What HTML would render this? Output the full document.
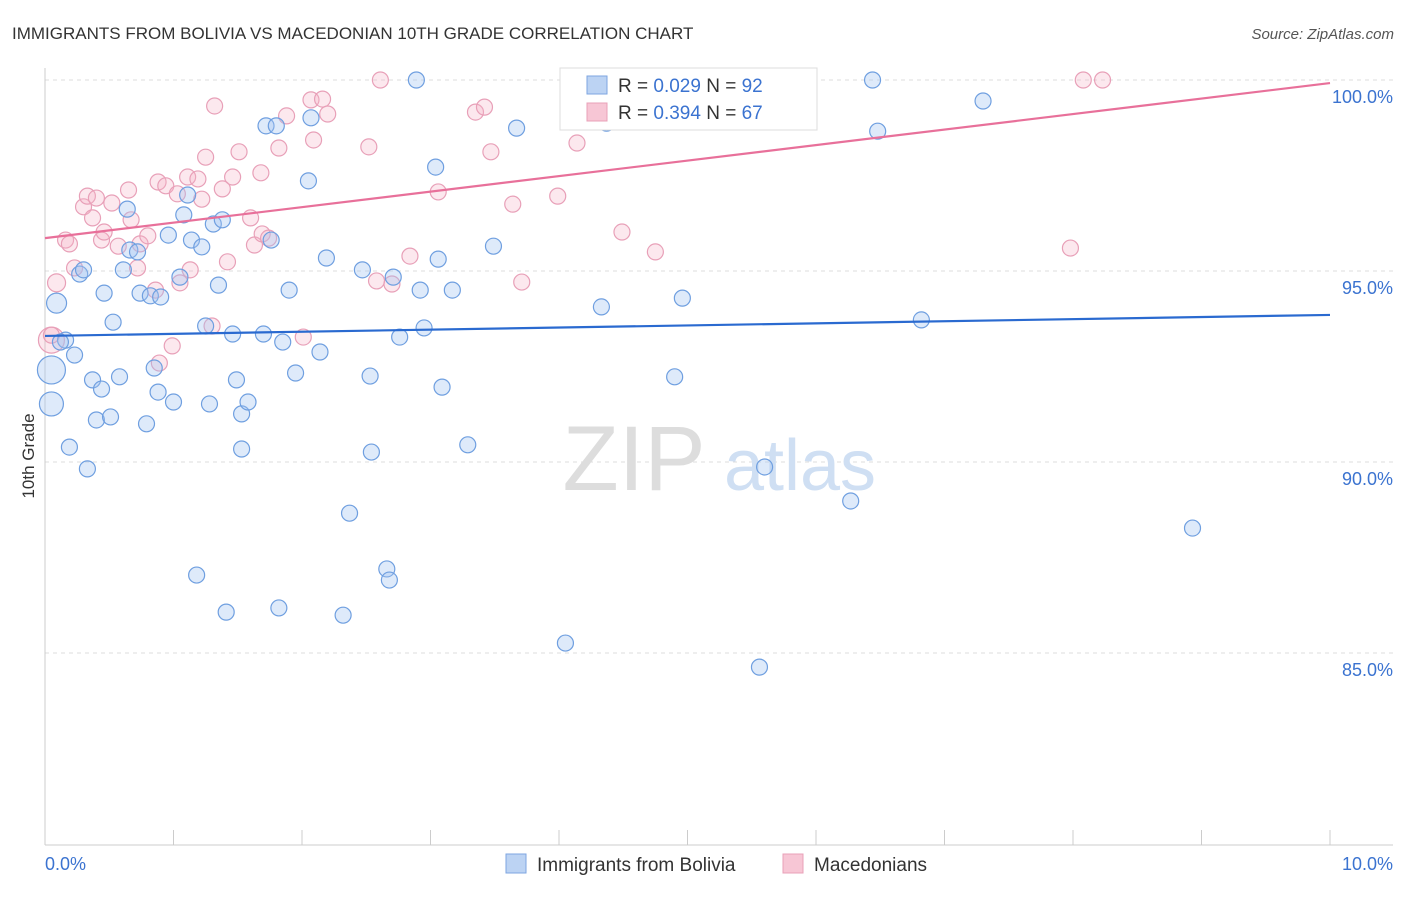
<!DOCTYPE html>
<html><head><meta charset="utf-8"><style>
body{margin:0;background:#fff;font-family:"Liberation Sans",sans-serif}
svg text{font-family:"Liberation Sans",sans-serif}
</style></head><body>
<svg width="1406" height="892" xmlns="http://www.w3.org/2000/svg">
<text x="12" y="39" font-size="17" fill="#333">IMMIGRANTS FROM BOLIVIA VS MACEDONIAN 10TH GRADE CORRELATION CHART</text>
<text x="1394" y="39" font-size="15" fill="#555" text-anchor="end" font-style="italic">Source: ZipAtlas.com</text>
<text x="34" y="456" font-size="17" fill="#333" text-anchor="middle" transform="rotate(-90 34 456)">10th Grade</text>
<g id="grid"></g>
<g><text x="634" y="490" font-size="92" fill="#ddd" font-family="Liberation Serif" text-anchor="middle">ZIP</text><text x="800" y="490" font-size="72" fill="#cfdff3" text-anchor="middle">atlas</text></g>
<g id="axes"></g>
<g id="pts"></g>
<g id="lines"></g>
<g>
<rect x="560" y="68" width="257" height="62" fill="#fff" stroke="#ddd"/>
<rect x="587" y="76" width="20" height="18" fill="#bcd3f3" stroke="#7ea6e0"/>
<text x="618" y="92" font-size="19" fill="#333">R = <tspan fill="#3b73d0">0.029</tspan>   N = <tspan fill="#3b73d0">92</tspan></text>
<rect x="587" y="103" width="20" height="18" fill="#f7c6d5" stroke="#e8a0b8"/>
<text x="618" y="119" font-size="19" fill="#333">R = <tspan fill="#3b73d0">0.394</tspan>   N = <tspan fill="#3b73d0">67</tspan></text>
</g>
<g>
<rect x="506" y="854" width="20" height="19" fill="#bcd3f3" stroke="#7ea6e0"/>
<text x="537" y="871" font-size="19" fill="#333">Immigrants from Bolivia</text>
<rect x="783" y="854" width="20" height="19" fill="#f7c6d5" stroke="#e8a0b8"/>
<text x="814" y="871" font-size="19" fill="#333">Macedonians</text>
</g>
</svg>
<script>
const blueX=[0.05,0.05,0.09,0.16,0.12,0.23,0.19,0.33,0.27,0.30,0.37,0.40,0.44,0.51,0.46,0.53,0.58,0.61,0.64,0.66,0.72,0.74,0.79,0.82,0.85,0.88,0.90,0.96,1.00,1.05,1.08,1.11,1.14,1.18,1.22,1.25,1.28,1.31,1.35,1.38,1.41,1.46,1.49,1.53,1.53,1.58,1.72,1.76,1.70,1.80,1.82,1.85,1.90,1.95,2.05,2.07,2.14,2.19,2.32,2.37,2.47,2.53,2.54,2.66,2.68,2.71,2.76,2.89,2.92,2.95,3.04,3.06,3.09,3.17,3.29,3.49,3.67,4.05,4.09,4.33,4.37,4.90,4.96,5.56,5.60,6.27,6.44,6.48,6.82,7.30,8.93];
const blueY=[92.41,91.52,94.16,93.19,93.14,92.80,90.39,89.82,94.92,95.03,92.15,91.10,91.91,91.18,94.42,93.66,92.23,95.03,96.62,95.55,95.50,94.42,91.00,94.35,92.46,91.83,94.32,95.94,91.57,94.84,96.47,96.99,95.81,87.04,95.63,93.56,91.52,96.23,94.63,96.34,86.07,93.35,92.15,90.34,91.26,91.57,98.80,95.81,93.35,98.80,86.18,93.14,94.50,92.33,97.36,99.01,92.88,95.34,85.99,88.66,95.03,92.25,90.26,87.20,86.91,94.84,93.27,100,94.50,93.51,97.72,95.31,91.96,94.50,90.45,95.65,98.74,85.26,100,94.06,98.87,92.23,94.29,84.63,89.87,88.98,100,98.66,93.72,99.45,88.27];
const blueR=[14,12,10];
const pinkX=[0.05,0.09,0.05,0.16,0.19,0.23,0.30,0.33,0.37,0.40,0.44,0.46,0.52,0.57,0.65,0.67,0.72,0.74,0.80,0.86,0.88,0.89,0.94,0.99,1.03,1.05,1.11,1.13,1.19,1.22,1.25,1.30,1.32,1.38,1.42,1.46,1.51,1.60,1.63,1.68,1.69,1.74,1.82,1.88,2.01,2.07,2.09,2.16,2.20,2.52,2.58,2.61,2.70,2.84,3.06,3.35,3.42,3.47,3.64,3.71,3.99,4.09,4.14,4.49,4.75,7.98,8.08,8.23];
const pinkY=[93.19,94.69,93.32,95.81,95.71,95.08,96.68,96.96,96.39,96.91,95.81,96.02,96.78,95.65,97.12,96.34,95.08,95.71,95.92,94.50,97.33,92.59,97.23,93.04,97.02,94.69,97.46,95.03,97.41,96.88,97.98,93.56,99.32,97.15,95.24,97.46,98.12,96.39,95.68,97.57,95.97,95.86,98.22,99.06,93.27,99.48,98.43,99.50,99.11,98.25,94.74,100,94.66,95.39,97.07,99.16,99.29,98.12,96.75,94.71,96.96,100,98.35,96.02,95.50,95.60,100,100];
const pinkR=[13,9];
const blueTrend=[93.30,93.85];
const pinkTrend=[95.86,99.92];
const yTicks=[100,95,90,85];
const yTickLabels=["100.0%","95.0%","90.0%","85.0%"];
const xEndLabels=["0.0%","10.0%"];
const NS="http://www.w3.org/2000/svg";
const X=v=>45+v*128.5, Y=v=>80+(100-v)*38.2;
function mk(t,a,p){const e=document.createElementNS(NS,t);for(const k in a)e.setAttribute(k,a[k]);p.appendChild(e);return e;}
const grid=document.getElementById('grid'),axes=document.getElementById('axes'),pts=document.getElementById('pts'),lines=document.getElementById('lines');
yTicks.forEach((t,i)=>{
 const l=mk('line',{x1:45,x2:1393,y1:Y(t),y2:Y(t),stroke:'#ddd','stroke-dasharray':'4,4'},grid);
 
 
 const tx=mk('text',{x:1393,y:Y(t)+23,'font-size':18,fill:'#3b73d0','text-anchor':'end'},axes);
 tx.textContent=yTickLabels[i];
 
 
});
const ax=mk('line',{x1:45,x2:1393,y1:845,y2:845,stroke:'#ccc'},axes);


const ay=mk('line',{x1:45,x2:45,y1:68,y2:845,stroke:'#ccc'},axes);


for(let i=0;i<=10;i++){const t=mk('line',{x1:X(i),x2:X(i),y1:830,y2:845,stroke:'#ccc'},axes);
 
 }
[[0,'start'],[10,'end']].forEach((d,i)=>{const t=mk('text',{x:i?1393:45,y:870,'font-size':18,fill:'#3b73d0','text-anchor':d[1]},axes);t.textContent=xEndLabels[i];
 
 });
function draw(xs,ys,rs,fill,stroke,name){xs.forEach((x,i)=>{const c=mk('circle',{cx:X(x),cy:Y(ys[i]),r:rs[i]||8,fill:fill,stroke:stroke,'stroke-width':1.2},pts);
 
 });}
draw(pinkX,pinkY,pinkR,'rgba(245,180,200,0.3)','#e8a0b8','macedonians-point');
draw(blueX,blueY,blueR,'rgba(160,195,240,0.35)','#6f9fe0','bolivia-point');
const bl=mk('line',{x1:X(0),x2:X(10),y1:Y(blueTrend[0]),y2:Y(blueTrend[1]),stroke:'#2a6ad0','stroke-width':2.2},lines);


const pl=mk('line',{x1:X(0),x2:X(10),y1:Y(pinkTrend[0]),y2:Y(pinkTrend[1]),stroke:'#e8709a','stroke-width':2.2},lines);


</script>
</body></html>
